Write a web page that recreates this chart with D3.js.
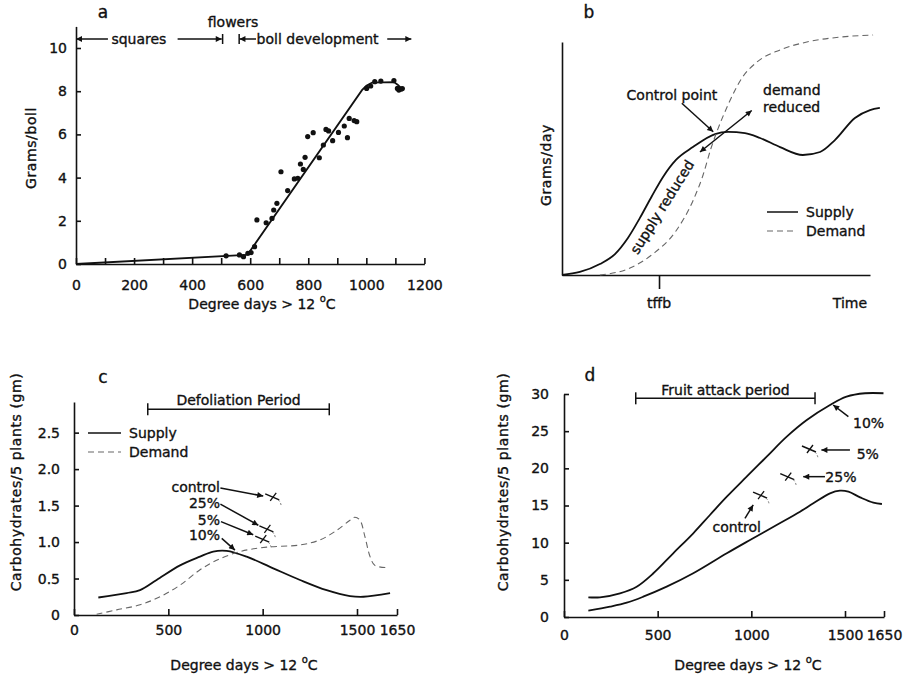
<!DOCTYPE html>
<html><head><meta charset="utf-8">
<script src="https://cdn.jsdelivr.net/npm/d3@7"></script>
<style>
body{margin:0;background:#fff}
svg text{font-family:"DejaVu Sans",sans-serif;fill:#111;stroke:#111;stroke-width:0.35px}
</style></head><body>
<svg id="chart" width="907" height="677"></svg>
<script>
// ---------- Panel a data ----------
const aTickValues = [0,100,200,300,400,500,600,700,800,900,1000,1100,1200];
const aYTicks = [0,2,4,6,8,10];
const aDots = [[517,0.38],[563,0.42],[577,0.34],[592,0.49],[603,0.53],[615,0.80],[623,2.04],[655,1.91],[675,2.11],[681,2.5],[692,2.81],[706,4.27],[729,3.4],[752,3.94],[764,3.97],[773,4.63],[783,4.38],[789,4.94],[798,5.9],[817,6.08],[838,4.92],[852,5.51],[861,6.23],[870,6.16],[884,5.71],[904,6.09],[924,6.39],[935,5.85],[941,6.74],[958,6.64],[967,6.59],[1001,8.13],[1015,8.24],[1029,8.44],[1050,8.47],[1095,8.49],[1107,8.13],[1112,8.05],[1120,8.1],[1124,8.12]];
const aFit = [[0,0],[585,0.42],[597,0.55],[985,8.05],[1000,8.25],[1020,8.4],[1095,8.42],[1108,8.3],[1122,8.12]];

// ---------- Panel b data (relative units) ----------
const bSupply = [[0,0],[5.8,1.3],[12.3,4.7],[17.2,9.0],[21.4,15.9],[25.3,24.5],[29.2,33.9],[32.8,42.1],[37.0,49.4],[42.5,54.9],[49.7,60.5],[53.9,61.4],[59.4,60.9],[64.3,58.8],[70.8,54.9],[78.2,51.5],[83.8,52.8],[88.6,57.9],[95.1,67.4],[100,70.8],[103.2,71.7]];
const bDemand = [[12.3,0],[22.1,3.0],[29.5,9.0],[37.0,18.9],[42.5,31.8],[45.8,42.9],[48.4,54.5],[50.0,60.5],[53.9,73.0],[58.4,84.5],[63.3,91.4],[70.8,96.6],[79.5,100],[90.3,102.1],[101,103]];
const bTffb = 31.5;

// ---------- Panel c data ----------
const cTicksX = [0,500,1000,1500,1650];
const cTicksY = [0,0.5,1.0,1.5,2.0,2.5];
const cSupply = [[129,0.24],[279,0.30],[350,0.34],[438,0.48],[562,0.68],[668,0.80],[738,0.87],[809,0.88],[915,0.80],[1056,0.64],[1198,0.48],[1339,0.34],[1463,0.26],[1524,0.25],[1624,0.30]];
const cDemand = [[120,0.01],[226,0.07],[350,0.14],[456,0.25],[562,0.41],[668,0.62],[756,0.75],[880,0.87],[1021,0.93],[1198,0.96],[1304,1.03],[1392,1.16],[1463,1.30],[1489,1.34],[1511,1.30],[1530,1.07],[1549,0.80],[1567,0.68],[1612,0.65]];
const cLabels = ["control","25%","5%","10%"];
const cMarkX = [1056,1025,1003];
const cMarkY = [1.62,1.18,1.04];

// ---------- Panel d data ----------
const dTicksX = [0,500,1000,1500,1650];
const dTicksY = [0,5,10,15,20,25,30];
const dUpper = [[130,2.65],[192,2.65],[299,3.19],[388,4.08],[477,5.88],[583,8.57],[690,11.26],[779,13.72],[869,16.18],[975,18.87],[1082,21.57],[1189,24.26],[1296,26.5],[1420,28.52],[1506,29.64],[1577,30.1],[1648,30.1]];
const dLower = [[130,0.85],[246,1.39],[335,1.92],[423,2.73],[548,4.08],[690,5.88],[869,8.57],[993,10.36],[1135,12.38],[1260,14.17],[1331,15.3],[1420,16.64],[1473,16.99],[1513,16.86],[1558,16.1],[1609,15.38],[1642,15.2]];
const dLabels = ["10%","5%","25%","control"];
const dMarkX = [1313,1197,1052];
const dMarkY = [22.6,18.88,16.4];

// ---------- drawing ----------
const svg = d3.select("#chart");
const INK = "#111";
const defs = svg.append("defs");
defs.append("marker").attr("id","ah").attr("viewBox","0 0 10 10").attr("refX",10).attr("refY",5)
  .attr("markerWidth",9).attr("markerHeight",6).attr("markerUnits","userSpaceOnUse").attr("orient","auto-start-reverse")
  .append("path").attr("d","M0,0L10,5L0,10z").attr("fill",INK);

function styleAxis(g){
  g.attr("font-family","DejaVu Sans").attr("font-size",14);
  g.selectAll("path,line").attr("stroke",INK).attr("stroke-width",1.6);
  g.selectAll("text").attr("fill",INK);
}
function text(x,y,s,anchor,size){
  return svg.append("text").attr("x",x).attr("y",y).attr("dy","0.35em")
    .attr("text-anchor",anchor||"start").attr("font-size",size||14).text(s);
}
function arrow(x1,y1,x2,y2,both){
  const l = svg.append("line").attr("x1",x1).attr("y1",y1).attr("x2",x2).attr("y2",y2)
    .attr("stroke",INK).attr("stroke-width",1.5).attr("marker-end","url(#ah)");
  if(both) l.attr("marker-start","url(#ah)");
  return l;
}
function degTitle(x,y){
  const t = svg.append("text").attr("x",x).attr("y",y).attr("dy","0.35em").attr("text-anchor","middle").attr("font-size",14);
  t.append("tspan").text("Degree days > 12 ");
  t.append("tspan").attr("dy",-7).attr("font-size",10).text("o");
  t.append("tspan").attr("dy",7).text("C");
}
function vTitle(x,y,s){
  svg.append("text").attr("transform",`translate(${x},${y}) rotate(-90)`).attr("dy","0.35em")
    .attr("text-anchor","middle").attr("font-size",14).attr("letter-spacing",0.6).text(s);
}
function marker(x,y){
  const g = svg.append("g").attr("transform",`translate(${x},${y})`);
  g.append("path").attr("d","M-8,-3L6,3").attr("stroke",INK).attr("stroke-width",1.5).attr("fill","none");
  g.append("path").attr("d","M-3,4L3,-4").attr("stroke",INK).attr("stroke-width",1.3).attr("fill","none");
  g.append("path").attr("d","M5,3Q8,6 8,10").attr("stroke","#777").attr("stroke-width",1).attr("stroke-dasharray","2,2").attr("fill","none");
}

// ===== Panel a =====
const ax = d3.scaleLinear().domain([0,1200]).range([76,424.4]);
const ay = d3.scaleLinear().domain([0,11]).range([264,26.4]);
styleAxis(svg.append("g").attr("transform","translate(0,264)")
  .call(d3.axisBottom(ax).tickValues(aTickValues).tickSize(-6).tickSizeOuter(0).tickPadding(16)
    .tickFormat(d => d % 200 === 0 ? String(d) : "")));
styleAxis(svg.append("g").attr("transform","translate(76,0)")
  .call(d3.axisLeft(ay).tickValues(aYTicks).tickSize(-5).tickSizeOuter(0).tickPadding(9)));
svg.append("path").datum(aFit).attr("fill","none").attr("stroke",INK).attr("stroke-width",1.8)
  .attr("d", d3.line().x(d=>ax(d[0])).y(d=>ay(d[1])));
svg.append("g").selectAll("circle").data(aDots).join("circle")
  .attr("cx",d=>ax(d[0])).attr("cy",d=>ay(d[1])).attr("r",2.6).attr("fill",INK);
text(103,12,"a","middle",17);
text(233,22,"flowers","middle");
arrow(ax(110),39,ax(0),39);
text(ax(122),39,"squares","start");
arrow(ax(350),39,ax(502),39);
svg.append("line").attr("x1",ax(505)).attr("x2",ax(505)).attr("y1",34).attr("y2",44).attr("stroke",INK).attr("stroke-width",1.5);
svg.append("line").attr("x1",ax(562)).attr("x2",ax(562)).attr("y1",34).attr("y2",44).attr("stroke",INK).attr("stroke-width",1.5);
arrow(ax(620),39,ax(563),39);
text(ax(622),39,"boll development","start");
arrow(ax(1072),39,ax(1155),39);
vTitle(31,148,"Grams/boll");
degTitle(262,304);

// ===== Panel b =====
const bx = d3.scaleLinear().domain([0,100]).range([562,870]);
const by = d3.scaleLinear().domain([0,100]).range([275,42]);
styleAxis(svg.append("g").attr("transform","translate(0,275)")
  .call(d3.axisBottom(bx).tickValues([bTffb]).tickSize(14).tickSizeOuter(0).tickFormat(()=>"")));
styleAxis(svg.append("g").attr("transform","translate(562,0)")
  .call(d3.axisLeft(by).tickValues([]).tickSizeOuter(0)));
const bLine = d3.line().x(d=>bx(d[0])).y(d=>by(d[1])).curve(d3.curveMonotoneX);
svg.append("path").datum(bSupply).attr("fill","none").attr("stroke",INK).attr("stroke-width",1.8).attr("d",bLine);
svg.append("path").datum(bDemand).attr("fill","none").attr("stroke","#666").attr("stroke-width",1.1)
  .attr("stroke-dasharray","6,4").attr("d",bLine);
text(589,12,"b","middle",17);
text(bx(bTffb),303,"tffb","middle");
text(850,303,"Time","middle");
vTitle(546,165,"Grams/day");
text(bx(35.7),by(77.3),"Control point","middle");
arrow(bx(38.9),by(73.7),bx(49.1),by(61.5));
arrow(bx(44.8),by(52.8),bx(61.6),by(70.6),true);
text(bx(65.3),by(79.4),"demand","start");
text(bx(65.3),by(72.1),"reduced","start");
svg.append("text").attr("transform",`translate(${bx(32.5)},${by(29.2)}) rotate(-58)`).attr("dy","0.35em")
  .attr("text-anchor","middle").attr("font-size",14).text("supply reduced");
svg.append("line").attr("x1",767).attr("x2",798).attr("y1",212).attr("y2",212).attr("stroke",INK).attr("stroke-width",1.5);
svg.append("line").attr("x1",767).attr("x2",796).attr("y1",231).attr("y2",231).attr("stroke","#666").attr("stroke-width",1.1).attr("stroke-dasharray","6,4");
text(806,212,"Supply","start");
text(806,231,"Demand","start");

// ===== Panel c =====
const cx = d3.scaleLinear().domain([0,1500,1650]).range([74,357,397]);
const cy = d3.scaleLinear().domain([0,2.92]).range([615,402]);
styleAxis(svg.append("g").attr("transform","translate(0,615)")
  .call(d3.axisBottom(cx).tickValues(cTicksX).tickSize(-6).tickSizeOuter(0).tickPadding(10).tickFormat(d3.format("d"))));
styleAxis(svg.append("g").attr("transform","translate(74,0)")
  .call(d3.axisLeft(cy).tickValues(cTicksY).tickSize(-5).tickSizeOuter(0).tickPadding(14)
    .tickFormat(d => d === 0 ? "0" : d3.format(".1f")(d))));
const cLine = d3.line().x(d=>cx(d[0])).y(d=>cy(d[1])).curve(d3.curveCatmullRom.alpha(0.5));
svg.append("path").datum(cSupply).attr("fill","none").attr("stroke",INK).attr("stroke-width",1.8).attr("d",cLine);
svg.append("path").datum(cDemand).attr("fill","none").attr("stroke","#666").attr("stroke-width",1.1)
  .attr("stroke-dasharray","6,4").attr("d",cLine);
text(103,377,"c","middle",17);
svg.append("line").attr("x1",cx(391)).attr("x2",cx(1353)).attr("y1",cy(2.82)).attr("y2",cy(2.82)).attr("stroke",INK).attr("stroke-width",1.5);
[391,1353].forEach(v=>svg.append("line").attr("x1",cx(v)).attr("x2",cx(v)).attr("y1",cy(2.82)-6).attr("y2",cy(2.82)+6).attr("stroke",INK).attr("stroke-width",1.5));
text(cx(872),400,"Defoliation Period","middle");
svg.append("line").attr("x1",88).attr("x2",121).attr("y1",433).attr("y2",433).attr("stroke",INK).attr("stroke-width",1.5);
svg.append("line").attr("x1",88).attr("x2",121).attr("y1",452).attr("y2",452).attr("stroke","#666").attr("stroke-width",1.1).attr("stroke-dasharray","6,4");
text(129,433,"Supply","start");
text(129,452,"Demand","start");
cMarkX.forEach((v,i)=>marker(cx(v),cy(cMarkY[i])));
text(cx(774),cy(1.76),cLabels[0],"end");
text(cx(774),cy(1.53),cLabels[1],"end");
text(cx(774),cy(1.30),cLabels[2],"end");
text(cx(774),cy(1.10),cLabels[3],"end");
arrow(cx(776),cy(1.74),cx(1003),cy(1.63));
arrow(cx(776),cy(1.52),cx(977),cy(1.23));
arrow(cx(779),cy(1.28),cx(950),cy(1.10));
arrow(cx(783),cy(1.05),cx(853),cy(0.89));
vTitle(16,482,"Carbohydrates/5 plants (gm)");
degTitle(244,665);

// ===== Panel d =====
const dx = d3.scaleLinear().domain([0,1500,1650]).range([564,845,884]);
const dy = d3.scaleLinear().domain([0,30]).range([617,394]);
styleAxis(svg.append("g").attr("transform","translate(0,617)")
  .call(d3.axisBottom(dx).tickValues(dTicksX).tickSize(-6).tickSizeOuter(0).tickPadding(13).tickFormat(d3.format("d"))));
styleAxis(svg.append("g").attr("transform","translate(564,0)")
  .call(d3.axisLeft(dy).tickValues(dTicksY).tickSize(-5).tickSizeOuter(0).tickPadding(15)));
const dLine = d3.line().x(d=>dx(d[0])).y(d=>dy(d[1])).curve(d3.curveCatmullRom.alpha(0.5));
svg.append("path").datum(dUpper).attr("fill","none").attr("stroke",INK).attr("stroke-width",1.8).attr("d",dLine);
svg.append("path").datum(dLower).attr("fill","none").attr("stroke",INK).attr("stroke-width",1.8).attr("d",dLine);
text(590,375,"d","middle",17);
svg.append("line").attr("x1",dx(383)).attr("x2",dx(1340)).attr("y1",dy(29.42)).attr("y2",dy(29.42)).attr("stroke",INK).attr("stroke-width",1.5);
[383,1340].forEach(v=>svg.append("line").attr("x1",dx(v)).attr("x2",dx(v)).attr("y1",dy(29.42)-6).attr("y2",dy(29.42)+6).attr("stroke",INK).attr("stroke-width",1.5));
text(dx(862),390,"Fruit attack period","middle");
dMarkX.forEach((v,i)=>marker(dx(v),dy(dMarkY[i])));
arrow(dx(1513),dy(26.95),dx(1437),dy(28.52));
text(dx(1531),dy(26.06),dLabels[0],"start");
arrow(dx(1519),dy(22.47),dx(1374),dy(22.47));
text(dx(1545),dy(21.93),dLabels[1],"start");
arrow(dx(1393),dy(18.88),dx(1277),dy(18.88));
text(dx(1395),dy(18.88),dLabels[2],"start");
arrow(dx(966),dy(13.28),dx(1010),dy(15.07));
text(dx(922),dy(12.15),dLabels[3],"middle");
vTitle(503,482,"Carbohydrates/5 plants (gm)");
degTitle(748,665);
</script>
</body></html>
